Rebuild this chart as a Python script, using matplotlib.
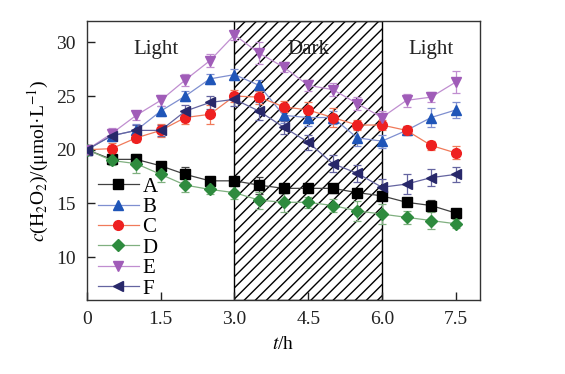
import numpy as np
import matplotlib
matplotlib.use('Agg')
import matplotlib.pyplot as plt

plt.rcParams['font.family'] = ['Liberation Serif', 'DejaVu Serif']
plt.rcParams['mathtext.fontset'] = 'stix'
plt.rcParams['hatch.linewidth'] = 1.0

# time points (h)
t = [0, 0.5, 1.0, 1.5, 2.0, 2.5, 3.0, 3.5, 4.0, 4.5, 5.0, 5.5, 6.0, 6.5, 7.0, 7.5]

# H2O2 concentration, umol/L
A = [20.0, 19.1, 19.1, 18.5, 17.7, 17.1, 17.1, 16.7, 16.4, 16.4, 16.4, 16.0, 15.7, 15.1, 14.8, 14.1]
B = [20.0, 21.3, 21.8, 23.6, 25.0, 26.6, 27.0, 26.0, 23.2, 23.0, 23.0, 21.1, 20.8, 21.8, 23.0, 23.7]
C = [20.0, 20.1, 21.1, 21.8, 23.0, 23.3, 25.0, 24.9, 24.0, 23.7, 23.0, 22.3, 22.3, 21.8, 20.4, 19.7]
D = [20.0, 19.0, 18.7, 17.7, 16.7, 16.3, 16.0, 15.3, 15.1, 15.1, 14.8, 14.3, 14.0, 13.7, 13.4, 13.1]
E = [20.0, 21.5, 23.2, 24.6, 26.5, 28.3, 30.7, 29.0, 27.7, 26.0, 25.6, 24.3, 23.0, 24.6, 24.9, 26.3]
F = [20.0, 21.3, 21.8, 21.8, 23.6, 24.4, 24.7, 23.6, 22.1, 20.7, 18.7, 17.8, 16.5, 16.8, 17.4, 17.7]

# error bars
errA = [0.2, 0.3, 0.4, 0.4, 0.7, 0.4, 0.3, 0.8, 0.4, 0.3, 0.4, 0.3, 0.4, 0.3, 0.5, 0.3]
errB = [0.2, 0.4, 0.6, 0.5, 0.5, 0.5, 0.5, 0.5, 0.7, 0.8, 0.6, 0.8, 0.6, 0.4, 0.9, 0.7]
errC = [0.2, 0.5, 0.4, 0.6, 0.6, 0.9, 0.6, 0.6, 0.5, 0.7, 0.9, 0.5, 0.5, 0.4, 0.4, 0.6]
errD = [0.2, 0.4, 0.9, 0.7, 0.6, 0.4, 0.6, 0.8, 0.9, 0.5, 0.6, 0.9, 0.9, 0.6, 0.8, 0.4]
errE = [0.2, 0.5, 0.4, 0.5, 0.6, 0.6, 0.5, 1.0, 0.5, 0.5, 0.6, 0.6, 0.6, 0.6, 0.5, 1.0]
errF = [0.2, 0.5, 0.5, 0.5, 0.6, 0.6, 0.6, 0.8, 0.6, 0.7, 0.8, 0.8, 0.8, 0.9, 0.8, 0.7]

labels = ['A', 'B', 'C', 'D', 'E', 'F']
series = [A, B, C, D, E, F]
errors = [errA, errB, errC, errD, errE, errF]
markers = ['s', '^', 'o', 'D', 'v', '<']
msizes = [6.5, 7, 7, 6, 7, 7]
mcolors = ['#000000', '#1f55b8', '#ee2020', '#2e8b3e', '#a05cb8', '#28286a']
lcolors = ['#404040', '#7f8fd0', '#f07a5a', '#80b080', '#c08ed0', '#6464a0']

fig = plt.figure(figsize=(5.65, 3.74), dpi=100)
ax = fig.add_axes([0.154, 0.198, 0.696, 0.746])

# dark period
ax.axvspan(3.0, 6.0, facecolor='none', edgecolor='black', hatch='///', lw=1.0, zorder=0)

for y, e, lab, m, ms, mc, lc in zip(series, errors, labels, markers, msizes, mcolors, lcolors):
    ax.errorbar(t, y, yerr=e, color=lc, lw=0.9, marker=m, ms=ms,
                mfc=mc, mec=mc, ecolor=lc, elinewidth=0.9, capsize=3,
                capthick=0.9, label=lab, zorder=3)

ax.set_xlim(0, 8)
ax.set_ylim(6, 32)
ax.set_xticks([0, 1.5, 3.0, 4.5, 6.0, 7.5])
ax.set_xticklabels(['0', '1.5', '3.0', '4.5', '6.0', '7.5'])
ax.set_yticks([10, 15, 20, 25, 30])
ax.tick_params(direction='in', length=6, width=1, labelsize=14, pad=8, colors='#222222')
for s in ax.spines.values():
    s.set_linewidth(1.0)
    s.set_color('#333333')

ax.text(1.4, 29.3, 'Light', fontsize=15, ha='center', va='center', color='#222222')
ax.text(4.5, 29.3, 'Dark', fontsize=15, ha='center', va='center', color='#222222')
ax.text(7.0, 29.3, 'Light', fontsize=15, ha='center', va='center', color='#222222')

ax.set_xlabel(r'$t$/h', fontsize=14, labelpad=6)
ax.set_ylabel(r'$c$(H$_2$O$_2$)/(μmol·L$^{-1}$)', fontsize=14, labelpad=4)

handles, labs = ax.get_legend_handles_labels()
handles = [h[0] for h in handles]
ax.legend(handles, labs, loc='lower left', bbox_to_anchor=(-0.005, -0.04), frameon=False,
          fontsize=15, handlelength=2.0, handletextpad=0.15, labelspacing=0.04,
          borderaxespad=0.2)

fig.savefig('out.png', dpi=100)
